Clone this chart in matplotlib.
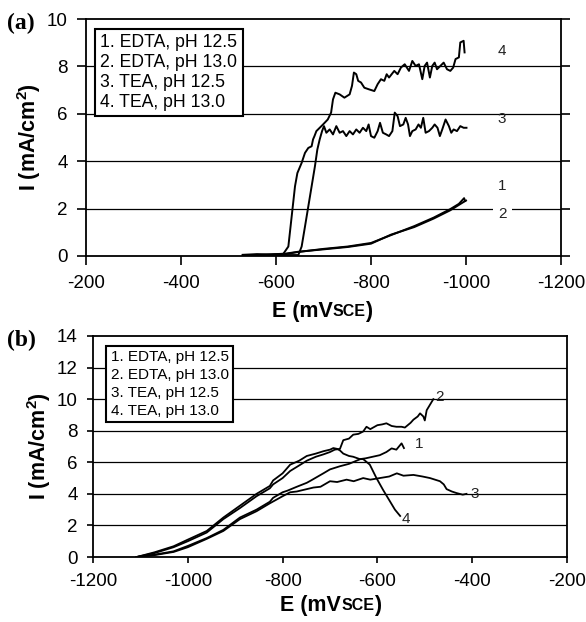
import matplotlib
matplotlib.use("Agg")
import matplotlib.pyplot as plt
from matplotlib.offsetbox import TextArea, HPacker, AnnotationBbox

plt.rcParams["font.family"] = ["Liberation Sans", "DejaVu Sans"]
plt.rcParams["mathtext.fontset"] = "custom"
plt.rcParams["mathtext.rm"] = "Liberation Sans:bold"
plt.rcParams["mathtext.bf"] = "Liberation Sans:bold"
plt.rcParams["axes.unicode_minus"] = False

legend_text = ["1. EDTA, pH 12.5", "2. EDTA, pH 13.0", "3. TEA, pH 12.5", "4. TEA, pH 13.0"]

# ---- panel (a) : potentiodynamic curves, x axis reversed ----
a1_E = [-530, -580, -620, -647, -700, -751, -800, -842, -891, -932, -967, -985, -996, -998]
a1_I = [0.02, 0.05, 0.08, 0.17, 0.30, 0.40, 0.55, 0.88, 1.26, 1.62, 1.98, 2.20, 2.44, 2.32]
a2_E = [-530, -580, -620, -647, -700, -751, -800, -842, -891, -932, -967, -995, -1000]
a2_I = [0.03, 0.06, 0.10, 0.18, 0.28, 0.38, 0.52, 0.90, 1.22, 1.58, 1.93, 2.28, 2.34]
a3_E = [-560, -600, -640, -647, -654, -661, -668, -675, -682, -687, -692, -697, -701, -706,
        -713, -720, -727, -734, -741, -748, -755, -762, -769, -776, -783, -790, -795, -800,
        -807, -814, -819, -825, -832, -838, -845, -850, -856, -861, -868, -873, -878, -882,
        -887, -894, -900, -905, -910, -915, -922, -929, -934, -940, -945, -950, -957, -964,
        -969, -974, -981, -988, -995, -1001]
a3_I = [0.03, 0.04, 0.04, 0.04, 0.40, 1.24, 2.09, 2.94, 3.79, 4.49, 4.92, 5.27, 5.48, 5.20,
        5.34, 5.13, 5.48, 5.20, 5.27, 5.06, 5.27, 5.13, 5.34, 5.20, 5.41, 5.27, 5.55, 5.06,
        4.99, 5.27, 5.62, 5.20, 5.13, 5.06, 5.27, 6.05, 5.90, 5.48, 5.55, 5.83, 5.55, 5.06,
        5.27, 5.34, 5.55, 5.41, 5.83, 5.20, 5.27, 5.41, 5.55, 5.41, 5.06, 5.34, 5.76, 5.48,
        5.20, 5.34, 5.27, 5.48, 5.41, 5.41]
a4_E = [-530, -560, -590, -615, -626, -633, -640, -645, -654, -661, -668, -675, -678, -681,
        -685, -692, -699, -709, -716, -720, -725, -734, -744, -755, -760, -764, -769, -773,
        -779, -786, -796, -807, -814, -821, -828, -833, -838, -849, -856, -863, -871, -880,
        -887, -894, -901, -908, -913, -918, -924, -929, -934, -939, -946, -953, -960, -967,
        -973, -978, -985, -988, -995, -997]
a4_I = [0.05, 0.08, 0.06, 0.08, 0.40, 1.67, 2.94, 3.50, 3.93, 4.35, 4.56, 4.63, 4.92, 5.06,
        5.27, 5.41, 5.55, 5.76, 6.05, 6.61, 6.89, 6.82, 6.68, 6.82, 7.18, 7.74, 7.67, 7.39,
        7.32, 7.10, 7.03, 6.96, 7.25, 7.46, 7.39, 7.67, 7.53, 7.81, 7.67, 7.95, 8.09, 7.81,
        8.23, 8.02, 8.09, 7.46, 8.02, 8.16, 7.53, 8.02, 8.16, 7.88, 8.02, 8.16, 7.88, 7.81,
        7.95, 8.31, 8.38, 9.01, 9.08, 8.59]

# ---- panel (b) ----
b1_E = [-1108, -1070, -1030, -1000, -960, -925, -890, -855, -827, -820, -800, -784, -765,
        -749, -730, -714, -700, -693, -685, -679, -672, -660, -651, -637, -625, -610, -595,
        -581, -570, -560, -549, -544]
b1_I = [0.0, 0.30, 0.68, 1.10, 1.65, 2.50, 3.25, 4.00, 4.50, 4.85, 5.30, 5.85, 6.10,
        6.40, 6.55, 6.70, 6.80, 6.90, 6.85, 6.75, 6.55, 6.40, 6.35, 6.20, 6.25, 6.35, 6.45,
        6.65, 6.88, 6.80, 7.20, 6.90]
b2_E = [-1108, -1070, -1030, -1000, -960, -925, -890, -855, -827, -820, -800, -784, -765,
        -749, -730, -714, -700, -690, -679, -672, -660, -651, -640, -630, -623, -615, -600,
        -590, -581, -570, -560, -549, -542, -530, -524, -515, -510, -503, -500, -496, -490,
        -486, -482]
b2_I = [0.0, 0.25, 0.62, 1.00, 1.55, 2.40, 3.10, 3.85, 4.35, 4.60, 5.00, 5.45, 5.80,
        6.10, 6.35, 6.50, 6.65, 6.80, 6.85, 7.40, 7.50, 7.75, 7.80, 7.95, 8.25, 8.10, 8.35,
        8.40, 8.47, 8.30, 8.25, 8.25, 8.20, 8.50, 8.70, 8.90, 9.10, 8.90, 8.65, 9.30, 9.60,
        9.80, 10.0]
b3_E = [-1108, -1070, -1030, -1000, -960, -925, -890, -855, -827, -800, -784, -770, -749,
        -735, -720, -700, -685, -665, -650, -630, -615, -595, -575, -559, -545, -524, -505,
        -489, -468, -460, -454, -443, -433, -420, -412]
b3_I = [0.0, 0.12, 0.32, 0.62, 1.15, 1.65, 2.40, 2.90, 3.40, 3.85, 4.10, 4.15, 4.30,
        4.40, 4.45, 4.80, 4.75, 4.90, 4.80, 5.00, 4.90, 5.00, 5.10, 5.30, 5.15, 5.20, 5.10,
        5.00, 4.80, 4.60, 4.30, 4.15, 4.05, 3.95, 4.00]
b4_E = [-1108, -1070, -1030, -1000, -960, -925, -890, -855, -827, -820, -800, -790, -770,
        -749, -740, -714, -700, -679, -660, -644, -636, -630, -622, -616, -602, -588, -573,
        -563, -552]
b4_I = [0.0, 0.15, 0.36, 0.70, 1.20, 1.72, 2.50, 3.00, 3.50, 3.75, 4.10, 4.20, 4.45,
        4.70, 4.85, 5.30, 5.55, 5.75, 5.90, 6.10, 6.20, 6.20, 6.00, 5.85, 5.00, 4.25, 3.50,
        3.00, 2.60]

W, H = 586, 622
fig = plt.figure(figsize=(W / 100, H / 100), dpi=100)
ax1 = fig.add_axes([86 / W, 1 - 256 / H, 475 / W, 237 / H])
ax2 = fig.add_axes([93 / W, 1 - 557 / H, 474 / W, 221 / H])


def style_axes(ax, yticks, right_ticks, tick_len, xpad):
    for sp in ax.spines.values():
        sp.set_linewidth(1.3)
        sp.set_color("black")
    ax.set_yticks(yticks)
    for y in yticks[1:-1]:
        ax.axhline(y, color="black", lw=0.9, zorder=0)
    ax.tick_params(direction="out", length=tick_len, width=1.2, labelsize=13.5,
                   right=right_ticks, colors="black")
    ax.tick_params(axis="x", pad=xpad)
    ax.tick_params(axis="y", pad=6.5)


def xlabel_box(x_px, y_px):
    parts = HPacker(children=[
        TextArea("E (mV", textprops=dict(fontsize=15.5, fontweight="bold")),
        TextArea("SCE", textprops=dict(fontsize=11.5, fontweight="bold")),
        TextArea(")", textprops=dict(fontsize=15.5, fontweight="bold")),
    ], align="baseline", pad=0, sep=0)
    ab = AnnotationBbox(parts, (x_px / W, 1 - y_px / H), xycoords="figure fraction",
                        frameon=False, box_alignment=(0.5, 0.5))
    fig.add_artist(ab)


# panel (a)
for E, I in [(a1_E, a1_I), (a2_E, a2_I), (a3_E, a3_I), (a4_E, a4_I)]:
    ax1.plot(E, I, color="black", lw=1.4, zorder=3)
ax1.set_xlim(-200, -1200)
ax1.set_ylim(0, 10)
ax1.set_xticks([-200, -400, -600, -800, -1000, -1200])
style_axes(ax1, [0, 2, 4, 6, 8, 10], True, 6.5, 7)
ax1.set_ylabel("I (mA/cm$^2$)", fontsize=15.5, fontweight="bold", labelpad=3)
xlabel_box(322, 311)
ax1.text(0.0305, 0.935, "\n".join(legend_text), transform=ax1.transAxes, fontsize=12.7,
         va="top", ha="left", linespacing=1.22, zorder=5,
         bbox=dict(boxstyle="square,pad=0.3", fc="white", ec="black", lw=1.5))
for lab, y in [("4", 8.66), ("3", 5.76), ("1", 2.94)]:
    ax1.text(-1076, y, lab, fontsize=11, ha="center", va="center", color="#222222")
ax1.text(-1076, 1.76, "2", fontsize=11, ha="center", va="center", color="#222222",
         bbox=dict(boxstyle="square,pad=0.35", fc="white", ec="none"), zorder=4)
fig.text(7 / W, 1 - 23 / H, "(a)", family="Liberation Serif", fontweight="bold",
         fontsize=17, va="center", ha="left")

# panel (b)
for E, I in [(b1_E, b1_I), (b2_E, b2_I), (b3_E, b3_I), (b4_E, b4_I)]:
    ax2.plot(E, I, color="black", lw=1.3, zorder=3)
ax2.set_xlim(-1200, -200)
ax2.set_ylim(0, 14)
ax2.set_xticks([-1200, -1000, -800, -600, -400, -200])
style_axes(ax2, [0, 2, 4, 6, 8, 10, 12, 14], False, 4.5, 7)
ax2.set_ylabel("I (mA/cm$^2$)", fontsize=15.5, fontweight="bold", labelpad=3)
xlabel_box(331, 605)
ax2.text(0.037, 0.936, "\n".join(legend_text), transform=ax2.transAxes, fontsize=11,
         va="top", ha="left", linespacing=1.35, zorder=5,
         bbox=dict(boxstyle="square,pad=0.3", fc="white", ec="black", lw=1.5))
for lab, x, y in [("2", -469, 10.15), ("1", -512, 7.16), ("3", -394, 4.0), ("4", -540, 2.4)]:
    ax2.text(x, y, lab, fontsize=11, ha="center", va="center", color="#222222")
fig.text(7 / W, 1 - 340 / H, "(b)", family="Liberation Serif", fontweight="bold",
         fontsize=17, va="center", ha="left")

fig.savefig("out.png", dpi=100, facecolor="white")
